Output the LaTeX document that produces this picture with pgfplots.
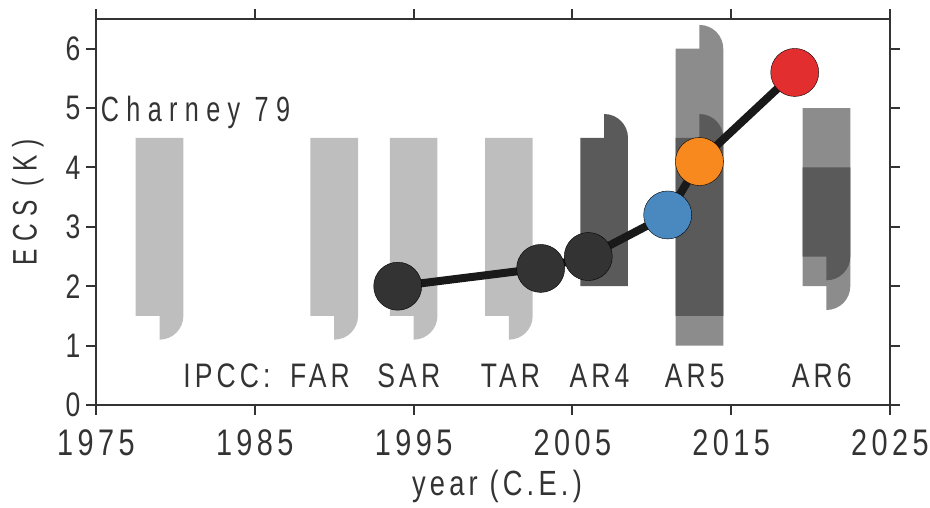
\documentclass[border=0pt]{standalone}
\usepackage{pgfplots}
\pgfplotsset{compat=1.18}
\usepackage{fontspec}
\setmainfont{Liberation Sans}[FakeStretch=0.78, LetterSpace=12]
\newfontfamily\widesans{Liberation Sans}[FakeStretch=0.72, LetterSpace=21]

\definecolor{axisgray}{HTML}{333333}
\definecolor{barlight}{HTML}{BEBEBE}
\definecolor{barmid}{HTML}{8C8C8C}
\definecolor{bardark}{HTML}{5A5A5A}
\definecolor{ptdark}{HTML}{333333}
\definecolor{ptblue}{HTML}{4A88C0}
\definecolor{ptorange}{HTML}{F7891E}
\definecolor{ptred}{HTML}{E32E30}

% assessed range with a quarter-round tail under its right half
% #1 colour, #2 left year, #3 right year, #4 low, #5 high, #6 end of tail
\newcommand{\rangedown}[6]{%
  \fill[#1] (axis cs:#2,#5) -- (axis cs:#3,#5) -- (axis cs:#3,#4)
    .. controls (axis cs:#3,{#4-0.5523*(#4-#6)}) and (axis cs:{#3-1.5+0.5523*1.5},#6) ..
    (axis cs:{#3-1.5},#6) -- (axis cs:{#3-1.5},#4) -- (axis cs:#2,#4) -- cycle;}
% same, with the tail above the right half
\newcommand{\rangeup}[6]{%
  \fill[#1] (axis cs:#2,#4) -- (axis cs:#3,#4) -- (axis cs:#3,#5)
    .. controls (axis cs:#3,{#5+0.5523*(#6-#5)}) and (axis cs:{#3-1.5+0.5523*1.5},#6) ..
    (axis cs:{#3-1.5},#6) -- (axis cs:{#3-1.5},#5) -- (axis cs:#2,#5) -- cycle;}

\begin{document}
\begin{tikzpicture}
\begin{axis}[
  width=794pt, height=386pt, scale only axis,
  xmin=1975, xmax=2025, ymin=0, ymax=6.5,
  xtick={1975,1985,...,2025}, ytick={0,1,...,6},
  /pgf/number format/1000 sep={},
  /pgf/number format/assume math mode=true,
  axis line style={axisgray, line width=2pt},
  tick style={axisgray, line width=2pt},
  major tick length=10pt,
  tick align=outside,
  xticklabel style={font=\fontsize{37}{40}\selectfont, text=axisgray, yshift=-11pt},
  yticklabel style={font=\fontsize{34}{40}\selectfont, text=axisgray, xshift=-2pt},
  xlabel={year (C.E.)}, ylabel={ECS (K)},
  every axis x label/.style={at={(axis description cs:0.505,-0.212)}, anchor=center,
    font=\fontsize{35}{40}\selectfont, text=axisgray},
  every axis y label/.style={at={(axis description cs:-0.086,0.525)}, anchor=center, rotate=90,
    font=\widesans\fontsize{34}{40}\selectfont, text=axisgray},
]
% assessed likely ranges
\rangedown{barlight}{1977.5}{1980.5}{1.5}{4.5}{1.1}
\rangedown{barlight}{1988.5}{1991.5}{1.5}{4.5}{1.1}
\rangedown{barlight}{1993.5}{1996.5}{1.5}{4.5}{1.1}
\rangedown{barlight}{1999.5}{2002.5}{1.5}{4.5}{1.1}
\rangeup{bardark}{2005.5}{2008.5}{2.0}{4.5}{4.9}
\rangeup{barmid}{2011.5}{2014.5}{1.0}{6.0}{6.4}
\rangeup{bardark}{2011.5}{2014.5}{1.5}{4.5}{4.9}
\rangedown{barmid}{2019.5}{2022.5}{2.0}{5.0}{1.6}
\rangedown{bardark}{2019.5}{2022.5}{2.5}{4.0}{2.1}

% model ECS through time
\addplot[color=black!90, line width=8pt, mark=none] coordinates
  {(1994,2.0) (2003,2.3) (2006,2.5) (2011,3.2) (2013,4.1) (2019,5.6)};
\addplot[only marks, mark=*, mark size=24pt, mark options={draw=none, fill=ptdark}] coordinates
  {(1994,2.0) (2003,2.3) (2006,2.5)};
\addplot[only marks, mark=*, mark size=24pt, mark options={draw=none, fill=ptblue}] coordinates {(2011,3.2)};
\addplot[only marks, mark=*, mark size=24pt, mark options={draw=none, fill=ptorange}] coordinates {(2013,4.1)};
\addplot[only marks, mark=*, mark size=24pt, mark options={draw=none, fill=ptred}] coordinates {(2019,5.6)};

\begin{scope}[every node/.style={font=\fontsize{34}{40}\selectfont, text=axisgray, inner sep=0pt}]
\node[anchor=base west, font=\widesans\fontsize{35}{40}\selectfont] at (axis cs:1975.3,4.77) {Charney 79};
\node[anchor=base] at (axis cs:1983.25,0.3) {IPCC:};
\node[anchor=base] at (axis cs:1989.1,0.3) {FAR};
\node[anchor=base] at (axis cs:1994.7,0.3) {SAR};
\node[anchor=base] at (axis cs:2001.1,0.3) {TAR};
\node[anchor=base] at (axis cs:2006.7,0.3) {AR4};
\node[anchor=base] at (axis cs:2012.7,0.3) {AR5};
\node[anchor=base] at (axis cs:2020.7,0.3) {AR6};
\end{scope}
\end{axis}
\pgfresetboundingbox
\useasboundingbox (-96pt,-103pt) rectangle (834pt,405pt);
\end{tikzpicture}
\end{document}
